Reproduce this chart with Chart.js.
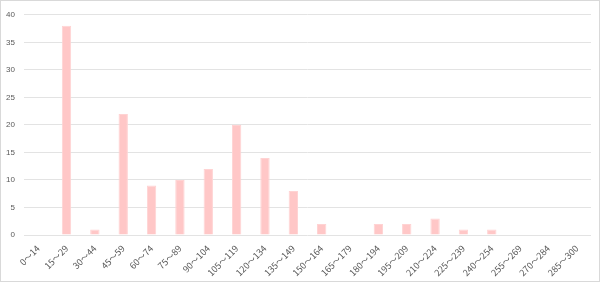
<!DOCTYPE html>
<html>
<head>
<meta charset="utf-8">
<script src="https://cdn.jsdelivr.net/npm/chart.js@4"></script>
<style>
  html, body { margin: 0; padding: 0; background: #fff; }
  .wrap { position: relative; width: 598px; height: 280px; border: 1px solid #d9d9d9; }
</style>
</head>
<body>
<div class="wrap"><canvas id="histChart" width="598" height="280"></canvas></div>
<script>
const ranges = ['0～14', '15～29', '30～44', '45～59', '60～74', '75～89', '90～104', '105～119', '120～134', '135～149',
  '150～164', '165～179', '180～194', '195～209', '210～224', '225～239', '240～254', '255～269', '270～284', '285～300'];
const counts = [0, 38, 1, 22, 9, 10, 12, 20, 14, 8, 2, 0, 2, 2, 3, 1, 1, 0, 0, 0];
const yTicks = [0, 5, 10, 15, 20, 25, 30, 35, 40];

const ctx = document.getElementById('histChart').getContext('2d');
new Chart(ctx, {
  type: 'bar',
  data: {
    labels: ranges,
    datasets: [{
      data: counts,
      backgroundColor: '#ffc7c7',
      borderColor: '#ffd3d3',
      borderWidth: 1,
      barPercentage: 0.33,
      categoryPercentage: 1,
    }],
  },
  options: {
    responsive: false,
    animation: false,
    layout: { padding: { top: 0, right: 8, left: 0, bottom: 2 } },
    plugins: { legend: { display: false }, tooltip: { enabled: false } },
    scales: {
      x: {
        grid: { display: false, drawTicks: false },
        border: { display: false },
        afterFit: (axis) => { axis.paddingLeft = 0; axis.height = 44; },
        ticks: {
          color: '#595959',
          font: { family: "'Noto Sans CJK JP'", size: 9, lineHeight: 1.2 },
          maxRotation: 45,
          minRotation: 45,
          autoSkip: false,
          padding: 8,
        },
      },
      y: {
        min: yTicks[0],
        max: yTicks[yTicks.length - 1],
        afterBuildTicks: (axis) => { axis.ticks = yTicks.map(v => ({ value: v })); },
        afterFit: (axis) => { axis.width = 23; },
        grid: { color: '#e3e3e3', lineWidth: 1, drawTicks: false },
        border: { display: false },
        ticks: {
          color: '#595959',
          font: { family: 'Liberation Sans', size: 8 },
          padding: 9,
        },
      },
    },
  },
});
</script>
</body>
</html>
